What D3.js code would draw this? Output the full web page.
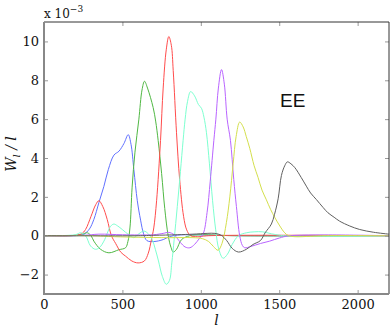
<!DOCTYPE html>
<html>
<head>
<meta charset="utf-8">
<script src="https://cdn.jsdelivr.net/npm/d3@7"></script>
<style>
  body { margin: 0; background: #fff; }
  svg { display: block; }
  svg text { font-family: "DejaVu Serif", "Liberation Serif", serif; }
  svg text.sans { font-family: "Liberation Sans", Arial, Helvetica, sans-serif; }
</style>
</head>
<body>
<div id="chart"></div>
<script>
// window functions, [l, W_l / l in units of 1e-3]
const blueData = [[0, 0], [200, 0], [240, 0.03], [255, 0.07], [290, 0.35], [318, 0.84], [350, 1.7], [382, 2.54], [410, 3.4], [446, 4.15], [478, 4.35], [510, 4.75], [537, 5.2], [555, 4.7], [573, 3.4], [595, 1.8], [616, 0.8], [635, 0.1], [656, -0.25], [700, -0.3], [760, -0.2], [800, -0.05], [850, 0.03], [950, 0.05], [1100, 0.02], [1300, 0], [2200, 0]];
const greenData = [[0, 0], [200, 0.02], [250, 0.1], [276, 0.15], [300, 0.0], [318, -0.28], [361, -0.7], [414, -0.88], [478, -0.72], [520, -0.62], [535, -0.3], [548, 0.4], [562, 2.5], [580, 4.3], [605, 6.0], [625, 7.5], [641, 7.95], [660, 7.6], [696, 6.6], [712, 5.9], [728, 4.9], [750, 3.2], [770, 1.4], [792, 0], [810, -0.6], [824, -0.84], [845, -0.7], [877, -0.2], [930, 0], [1000, 0.05], [1100, 0.03], [1200, 0], [2200, 0]];
const redData = [[0, 0], [200, 0.02], [240, 0.1], [265, 0.32], [300, 1.0], [330, 1.6], [350, 1.8], [375, 1.5], [403, 0.84], [430, 0], [457, -0.4], [490, -0.85], [520, -1.05], [560, -1.3], [600, -1.4], [640, -1.3], [665, -0.9], [685, -0.2], [700, 0.4], [718, 1.8], [743, 4.9], [760, 7.6], [780, 9.6], [796, 10.25], [812, 9.8], [824, 8.5], [845, 5.3], [865, 2.9], [890, 1.0], [910, 0.3], [935, 0], [980, -0.05], [1050, 0], [2200, 0]];
const cyanData = [[0, 0], [200, 0.05], [234, 0.15], [265, 0], [297, -0.53], [329, -0.7], [355, -0.6], [382, -0.28], [425, 0.49], [446, 0.6], [470, 0.5], [499, 0.32], [540, 0.05], [573, -0.1], [605, 0.1], [637, 0.24], [665, 0.1], [690, -0.2], [710, -0.7], [730, -1.3], [755, -2.1], [780, -2.5], [800, -2.3], [815, -1.4], [830, -0.2], [850, 1.5], [870, 3.3], [887, 4.9], [900, 6.0], [915, 6.9], [935, 7.42], [960, 7.2], [985, 6.75], [1004, 6.56], [1020, 6.1], [1036, 5.3], [1055, 3.7], [1075, 1.8], [1095, 0.3], [1115, -0.7], [1142, -1.16], [1170, -0.95], [1200, -0.45], [1240, 0.0], [1290, 0.15], [1340, 0.2], [1395, 0.2], [1450, 0.1], [1535, 0], [2200, 0]];
const purpleData = [[0, 0], [250, 0.02], [350, 0.08], [500, 0.05], [700, 0.05], [760, 0.12], [795, 0.17], [830, 0.05], [870, -0.35], [900, -0.58], [930, -0.62], [960, -0.45], [990, -0.15], [1015, 0.1], [1040, 1.2], [1060, 2.8], [1083, 4.9], [1096, 6.0], [1112, 7.6], [1132, 8.55], [1150, 7.8], [1168, 6.0], [1189, 4.9], [1210, 2.9], [1227, 1.5], [1248, 0], [1265, -0.5], [1280, -0.62], [1320, -0.55], [1380, -0.4], [1439, -0.28], [1500, -0.12], [1567, 0], [2200, 0]];
const yellowData = [[0, 0], [300, 0], [450, -0.05], [600, -0.08], [800, -0.1], [950, -0.1], [1010, -0.15], [1050, -0.3], [1080, -0.55], [1110, -0.75], [1135, -0.4], [1163, 0.67], [1185, 2.0], [1206, 3.7], [1225, 5.1], [1248, 5.85], [1270, 5.6], [1290, 5.1], [1312, 4.5], [1340, 3.6], [1365, 3.0], [1390, 2.35], [1418, 1.85], [1445, 1.35], [1471, 0.95], [1500, 0.55], [1535, 0.15], [1560, 0], [1600, -0.05], [1700, -0.03], [1800, 0], [2200, 0]];
const greyData = [[0, 0], [600, 0], [700, 0.02], [850, 0.05], [950, 0.08], [1040, 0.12], [1090, 0.12], [1130, 0.02], [1165, -0.25], [1200, -0.65], [1240, -0.84], [1290, -0.7], [1333, -0.45], [1380, -0.25], [1410, 0.15], [1450, 0.6], [1470, 1.1], [1493, 1.9], [1514, 3.1], [1535, 3.6], [1552, 3.8], [1575, 3.7], [1600, 3.5], [1640, 3.0], [1673, 2.55], [1700, 2.2], [1737, 1.86], [1780, 1.45], [1811, 1.18], [1850, 0.95], [1885, 0.75], [1950, 0.5], [2013, 0.32], [2100, 0.18], [2200, 0.08]];

const seriesList = [blueData, greenData, redData, cyanData, purpleData, yellowData, greyData];
const seriesColors = ["#6070ff", "#50b844", "#ff4c4c", "#7dffd0", "#b964ff", "#d4df4c", "#606060"];
const xTicks = [0, 500, 1000, 1500, 2000];
const yTicks = [-2, 0, 2, 4, 6, 8, 10];

const width = 392;
const height = 327;
const margin = { top: 22, right: 3, bottom: 33, left: 44 };
const plotW = width - margin.left - margin.right;
const plotH = height - margin.top - margin.bottom;

const svg = d3.select("#chart").append("svg")
	.attr("width", width)
	.attr("height", height);

const x = d3.scaleLinear().domain([0, 2200]).range([0, plotW]);
const y = d3.scaleLinear().domain([-3, 11]).range([plotH, 0]);

const g = svg.append("g").attr("transform", `translate(${margin.left},${margin.top})`);

svg.append("defs").append("clipPath").attr("id", "clip")
	.append("rect").attr("width", plotW).attr("height", plotH);

const line = d3.line()
	.x((d) => x(d[0]))
	.y((d) => y(d[1]))
	.curve(d3.curveCatmullRom.alpha(0.5));

g.append("g").attr("clip-path", "url(#clip)")
	.selectAll("path")
	.data(seriesList)
	.enter()
	.append("path")
	.attr("d", line)
	.attr("fill", "none")
	.attr("stroke", (_d, i) => seriesColors[i])
	.attr("stroke-width", 1);

const fmt = (d) => (d < 0 ? "\u2212" + Math.abs(d) : String(d));

// axes, ticks inward like matlab
const xAxis = g.append("g").attr("transform", `translate(0,${plotH})`)
	.call(d3.axisBottom(x).tickValues(xTicks).tickSizeInner(-4).tickSizeOuter(0).tickPadding(6).tickFormat(fmt));
const xTop = g.append("g")
	.call(d3.axisTop(x).tickValues(xTicks).tickSizeInner(-4).tickSizeOuter(0).tickFormat(""));
const yAxis = g.append("g")
	.call(d3.axisLeft(y).tickValues(yTicks).tickSizeInner(-4).tickSizeOuter(0).tickPadding(5).tickFormat(fmt));
const yRight = g.append("g").attr("transform", `translate(${plotW},0)`)
	.call(d3.axisRight(y).tickValues(yTicks).tickSizeInner(-4).tickSizeOuter(0).tickFormat(""));

[xAxis, xTop, yAxis, yRight].forEach((a) => {
	a.attr("font-family", null).attr("font-size", 13);
	a.select(".domain").remove();
	a.selectAll(".tick line").attr("stroke", "#999").attr("stroke-width", 1);
	a.selectAll("text").attr("fill", "#111");
});

// frame
g.append("line").attr("x1", 0).attr("x2", plotW).attr("y1", 0).attr("y2", 0)
	.attr("stroke", "#333").attr("stroke-width", 1);
g.append("line").attr("x1", plotW).attr("x2", plotW).attr("y1", 0).attr("y2", plotH)
	.attr("stroke", "#333").attr("stroke-width", 1);
g.append("line").attr("x1", 0).attr("x2", 0).attr("y1", 0).attr("y2", plotH + 1)
	.attr("stroke", "#888").attr("stroke-width", 2);
g.append("line").attr("x1", -1).attr("x2", plotW).attr("y1", plotH).attr("y2", plotH)
	.attr("stroke", "#888").attr("stroke-width", 2);

// exponent label
const expo = svg.append("text")
	.attr("x", 44)
	.attr("y", 18)
	.attr("fill", "#111")
	.attr("font-size", 12);
expo.append("tspan").text("x 10");
expo.append("tspan").attr("dy", -6).attr("font-size", 9).text("\u22123");

// axis labels
svg.append("text")
	.attr("x", margin.left + x(1100))
	.attr("y", 325)
	.attr("text-anchor", "middle")
	.attr("fill", "#111")
	.attr("font-size", 14)
	.attr("font-style", "italic")
	.text("l");

const yLab = svg.append("text")
	.attr("transform", `translate(16,${margin.top + plotH / 2 - 4}) rotate(-90)`)
	.attr("text-anchor", "middle")
	.attr("fill", "#111")
	.attr("font-size", 14)
	.attr("font-style", "italic");
yLab.append("tspan").text("W");
yLab.append("tspan").attr("dy", 4).attr("font-size", 10).text("l");
yLab.append("tspan").attr("dy", -4).text(" / l");

svg.append("text")
	.attr("class", "sans")
	.attr("x", 280)
	.attr("y", 107)
	.attr("fill", "#111")
	.attr("font-size", 19)
	.text("EE");
</script>
</body>
</html>
